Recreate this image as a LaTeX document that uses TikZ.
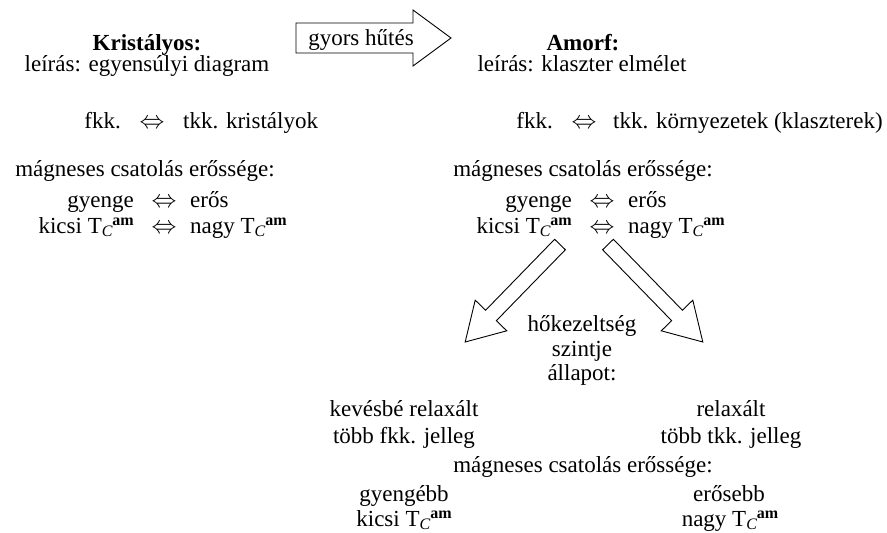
\documentclass[tikz,border=0pt]{standalone}
\usepackage{fontspec}
\setmainfont{Liberation Serif}
\newcommand\Tcam{T\raisebox{-3pt}{\fontsize{16}{16}\selectfont\itshape C}\raisebox{7.5pt}{\fontsize{16}{16}\selectfont\bfseries am}}
\begin{document}
\begin{tikzpicture}[x=1pt,y=-1pt,
  every node/.style={inner sep=0pt, font=\fontsize{23}{25}\selectfont},
  tc/.style={anchor=base},
  te/.style={anchor=base east},
  tw/.style={anchor=base west},
  blk/.style={draw=black, line width=0.9pt, fill=white, line join=miter}]
\path[use as bounding box] (0,0) rectangle (887,533);

% big horizontal arrow
\draw[blk] (296,23) -- (413,23) -- (413,10) -- (451,38) -- (413,66) -- (413,53) -- (296,53) -- cycle;
\node[tc] (hut) at (361,45) {gyors hűtés};

% titles
\node[tc] (kr) at (147,50) {\bfseries Kristályos:};
\node[tc] (krl) at (147,71) {leírás: egyensúlyi diagram};
\node[tc] (am) at (583,50) {\bfseries Amorf:};
\node[tc] (aml) at (582,71) {leírás: klaszter elmélet};

% fkk rows
\node[te] (f1) at (121,128) {fkk.};
\node[tc] (e1) at (152,128) {$\Leftrightarrow$};
\node[tw] (k1) at (183,128) {tkk. kristályok};
\node[te] (f2) at (553,128) {fkk.};
\node[tc] (e2) at (584,128) {$\Leftrightarrow$};
\node[tw] (k2) at (613,128) {tkk. környezetek (klaszterek)};

% left coupling block
\node[tc] (m1) at (145,176) {mágneses csatolás erőssége:};
\node[te] (g1) at (134,207) {gyenge};
\node[tc] (ge1) at (164,207) {$\Leftrightarrow$};
\node[tw] (er1) at (190,207) {erős};
\node[te] (ki1) at (134,233) {kicsi \Tcam};
\node[tc] (ke1) at (164,233) {$\Leftrightarrow$};
\node[tw] (na1) at (190,233) {nagy \Tcam};

% right coupling block
\node[tc] (m2) at (583,176) {mágneses csatolás erőssége:};
\node[te] (g2) at (572,207) {gyenge};
\node[tc] (ge2) at (602,207) {$\Leftrightarrow$};
\node[tw] (er2) at (628,207) {erős};
\node[te] (ki2) at (572,233) {kicsi \Tcam};
\node[tc] (ke2) at (602,233) {$\Leftrightarrow$};
\node[tw] (na2) at (628,233) {nagy \Tcam};

% diagonal block arrows
\begin{scope}[shift={(560,244.5)}, rotate=225.8]
\draw[blk] (0,-7.5) -- (99,-7.5) -- (99,-22) -- (136,0) -- (99,22) -- (99,7.5) -- (0,7.5) -- cycle;
\end{scope}
\begin{scope}[shift={(608,244.5)}, rotate=314.2]
\draw[blk] (0,-7.5) -- (99,-7.5) -- (99,-22) -- (136,0) -- (99,22) -- (99,7.5) -- (0,7.5) -- cycle;
\end{scope}

% middle label
\node[tc] (h1) at (582,331) {hőkezeltség};
\node[tc] (h2) at (582,356) {szintje};
\node[tc] (h3) at (582,380) {állapot:};

% states
\node[tc] (s1) at (404,416) {kevésbé relaxált};
\node[tc] (s2) at (404,443) {több fkk. jelleg};
\node[tc] (r1) at (731,416) {relaxált};
\node[tc] (r2) at (731,443) {több tkk. jelleg};

% bottom coupling
\node[tc] (m3) at (583,472) {mágneses csatolás erőssége:};
\node[tc] (b1) at (404,501) {gyengébb};
\node[tc] (b2) at (404,526) {kicsi \Tcam};
\node[tc] (b3) at (729,501) {erősebb};
\node[tc] (b4) at (730,526) {nagy \Tcam};
\end{tikzpicture}
\end{document}
